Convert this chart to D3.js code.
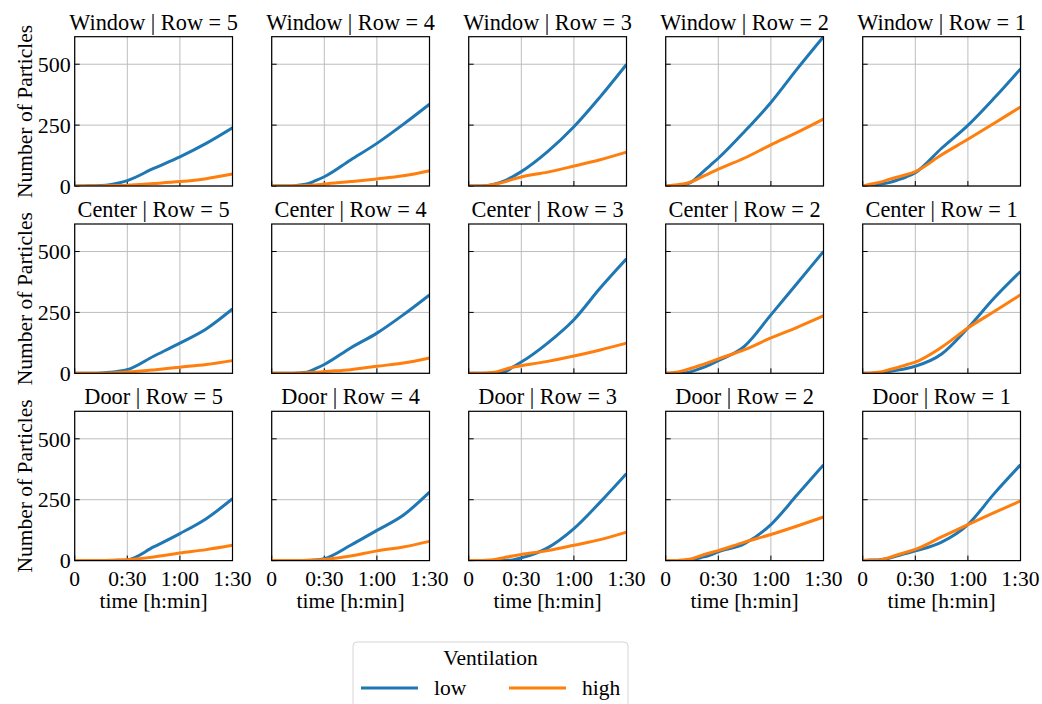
<!DOCTYPE html>
<html>
<head>
<meta charset="utf-8">
<script src="https://cdn.jsdelivr.net/npm/d3@7"></script>
<style>
  body { margin: 0; background: #fff; }
</style>
</head>
<body>
<script>
// minutes since start
const times = [0, 5, 10, 15, 20, 25, 30, 45, 60, 75, 90];
const locations = ['Window', 'Center', 'Door'];
const rows = [5, 4, 3, 2, 1];
const xTicks = [0, 30, 60, 90];
const xTickLabels = ['0', '0:30', '1:00', '1:30'];
const yTicks = [0, 250, 500];
const ventilation = ['low', 'high'];

// one array per row, in the order of `rows`
const windowLow = [
  [0, 0, 1, 2, 5, 12, 22, 72, 120, 175, 239],
  [0, 0, 0, 3, 8, 22, 38, 107, 175, 253, 336],
  [0, 0, 1, 8, 20, 38, 59, 141, 243, 366, 499],
  [0, 1, 5, 18, 50, 82, 114, 224, 343, 481, 613],
  [0, 4, 8, 14, 25, 38, 55, 155, 249, 361, 481]
];
const windowHigh = [
  [0, 0, 0, 0, 1, 2, 3, 10, 18, 30, 49],
  [0, 0, 0, 1, 2, 4, 8, 18, 29, 42, 63],
  [0, 0, 1, 7, 16, 27, 37, 57, 82, 108, 139],
  [0, 4, 8, 18, 35, 52, 69, 115, 169, 220, 275],
  [0, 8, 16, 27, 37, 47, 59, 128, 192, 258, 324]
];
const centerLow = [
  [0, 0, 0, 1, 4, 8, 15, 70, 124, 182, 264],
  [0, 0, 0, 1, 4, 19, 36, 104, 165, 240, 322],
  [0, 0, 0, 1, 4, 25, 46, 124, 220, 350, 470],
  [0, 0, 1, 8, 20, 35, 52, 112, 240, 370, 500],
  [0, 0, 2, 7, 13, 20, 29, 79, 186, 309, 418]
];
const centerHigh = [
  [0, 0, 0, 0, 1, 3, 5, 14, 25, 36, 52],
  [0, 0, 0, 1, 2, 4, 7, 15, 29, 42, 63],
  [0, 0, 1, 4, 15, 25, 31, 49, 71, 96, 124],
  [0, 3, 11, 22, 33, 46, 59, 97, 145, 189, 236],
  [0, 1, 5, 15, 24, 35, 46, 107, 186, 254, 322]
];
const doorLow = [
  [0, 0, 0, 0, 0, 1, 3, 56, 111, 172, 254],
  [0, 0, 0, 0, 0, 2, 8, 63, 124, 186, 281],
  [0, 0, 0, 0, 1, 3, 11, 52, 131, 240, 357],
  [0, 0, 0, 3, 12, 22, 36, 70, 148, 270, 393],
  [0, 2, 4, 10, 20, 30, 40, 76, 148, 275, 393]
];
const doorHigh = [
  [0, 0, 0, 0, 1, 2, 4, 15, 31, 45, 63],
  [0, 0, 0, 0, 1, 2, 5, 19, 40, 56, 79],
  [0, 0, 1, 5, 12, 19, 25, 41, 63, 86, 117],
  [0, 0, 3, 8, 20, 31, 41, 76, 107, 142, 179],
  [0, 1, 3, 12, 24, 35, 46, 97, 148, 197, 245]
];

const lowByLocation = [windowLow, centerLow, doorLow];
const highByLocation = [windowHigh, centerHigh, doorHigh];
const colors = { low: '#1f77b4', high: '#ff7f0e' };

const W = 1042, H = 704;
const left0 = 74.7, top0 = 36.7;
const pw = 157.8, ph = 149.3;
const dx = 197, dy = 187.3;
const FONT = "'Liberation Serif', Tinos, 'Times New Roman', serif";
const FS = 21.5;

const svg = d3.select('body')
  .append('svg')
  .attr('width', W)
  .attr('height', H)
  .style('font-family', FONT);

const yMax = d3.max([].concat(...lowByLocation.flat(), ...highByLocation.flat()));

const x = d3.scaleLinear().domain([0, 90]).range([0, pw]);
const y = d3.scaleLinear().domain([0, yMax]).range([ph, 0]);

const line = d3.line()
  .x((d, i) => x(times[i]))
  .y(d => y(d))
  .curve(d3.curveMonotoneX);

svg.append('defs')
  .append('clipPath')
  .attr('id', 'clip')
  .append('rect')
  .attr('width', pw)
  .attr('height', ph);

locations.forEach((loc, r) => {
  rows.forEach((row, c) => {
    const g = svg.append('g')
      .attr('transform', `translate(${left0 + c * dx},${top0 + r * dy})`);

    // grid
    g.selectAll('.gx')
      .data(xTicks)
      .enter()
      .append('line')
      .attr('x1', d => x(d)).attr('x2', d => x(d))
      .attr('y1', 0).attr('y2', ph)
      .attr('stroke', '#bdbdbd')
      .attr('stroke-width', 1);

    g.selectAll('.gy')
      .data(yTicks)
      .enter()
      .append('line')
      .attr('x1', 0).attr('x2', pw)
      .attr('y1', d => y(d)).attr('y2', d => y(d))
      .attr('stroke', '#bdbdbd')
      .attr('stroke-width', 1);

    // inward ticks
    g.selectAll('.ty')
      .data(yTicks)
      .enter()
      .append('line')
      .attr('x1', 0).attr('x2', 5)
      .attr('y1', d => y(d)).attr('y2', d => y(d))
      .attr('stroke', '#000')
      .attr('stroke-width', 1);

    g.selectAll('.tx')
      .data(xTicks)
      .enter()
      .append('line')
      .attr('x1', d => x(d)).attr('x2', d => x(d))
      .attr('y1', ph).attr('y2', ph - 5)
      .attr('stroke', '#000')
      .attr('stroke-width', 1);

    const series = [
      { key: 'low', values: lowByLocation[r][c] },
      { key: 'high', values: highByLocation[r][c] }
    ];

    g.append('g')
      .attr('clip-path', 'url(#clip)')
      .selectAll('path')
      .data(series)
      .enter()
      .append('path')
      .attr('d', d => line(d.values))
      .attr('fill', 'none')
      .attr('stroke', d => colors[d.key])
      .attr('stroke-width', 3)
      .attr('stroke-linejoin', 'round');

    // frame
    g.append('rect')
      .attr('width', pw)
      .attr('height', ph)
      .attr('fill', 'none')
      .attr('stroke', '#000')
      .attr('stroke-width', 1.2);

    g.append('text')
      .attr('x', pw / 2)
      .attr('y', -7)
      .attr('text-anchor', 'middle')
      .attr('font-size', 22.3)
      .text(`${loc} | Row = ${row}`);

    if (c === 0) {
      g.selectAll('.yl')
        .data(yTicks)
        .enter()
        .append('text')
        .attr('x', -4)
        .attr('y', d => y(d))
        .attr('dy', '0.35em')
        .attr('text-anchor', 'end')
        .attr('font-size', 22)
        .text(d => d);

      g.append('text')
        .attr('transform', `translate(${-43},${ph / 2}) rotate(-90)`)
        .attr('text-anchor', 'middle')
        .attr('font-size', FS)
        .text('Number of Particles');
    }

    if (r === locations.length - 1) {
      g.selectAll('.xl')
        .data(xTicks)
        .enter()
        .append('text')
        .attr('x', d => x(d))
        .attr('y', ph + 25)
        .attr('text-anchor', 'middle')
        .attr('font-size', FS)
        .text((d, i) => xTickLabels[i]);

      g.append('text')
        .attr('x', pw / 2)
        .attr('y', ph + 47)
        .attr('text-anchor', 'middle')
        .attr('font-size', FS)
        .text('time [h:min]');
    }
  });
});

/* legend */
const legend = svg.append('g').attr('transform', 'translate(353,642)');

legend.append('rect')
  .attr('width', 275)
  .attr('height', 80)
  .attr('rx', 4)
  .attr('fill', '#fff')
  .attr('stroke', '#d5d5d5')
  .attr('stroke-width', 1);

legend.append('text')
  .attr('x', 137.5)
  .attr('y', 23)
  .attr('text-anchor', 'middle')
  .attr('font-size', FS)
  .text('Ventilation');

const item = legend.selectAll('.item')
  .data(ventilation)
  .enter()
  .append('g')
  .attr('transform', (d, i) => `translate(${8 + i * 148},46)`);

item.append('line')
  .attr('x1', 0).attr('x2', 57)
  .attr('stroke', d => colors[d])
  .attr('stroke-width', 3);

item.append('text')
  .attr('x', 73)
  .attr('y', 7)
  .attr('font-size', FS)
  .text(d => d);
</script>
</body>
</html>
